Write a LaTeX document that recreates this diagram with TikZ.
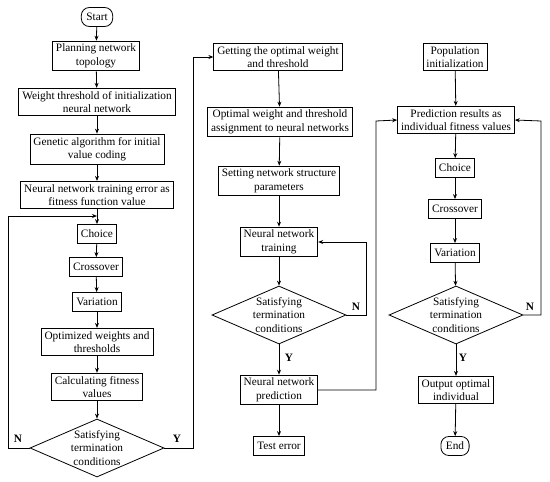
\documentclass[tikz,border=0pt]{standalone}
\usepackage{fontspec}
\setmainfont{Liberation Serif}
\usetikzlibrary{arrows.meta,shapes.geometric}

\begin{document}
\begin{tikzpicture}[x=1pt,y=-1pt,
  font=\rmfamily\fontsize{11.3}{13.5}\selectfont,
  box/.style={draw, line width=0.8pt, align=center, inner xsep=3.5pt, inner ysep=3pt, minimum height=19pt},
  term/.style={box, rounded corners=8pt, inner xsep=5pt},
  decide/.style={draw, line width=0.8pt, diamond, minimum width=134pt, minimum height=58pt, inner sep=0pt,
    label={[align=center]center:Satisfying\\termination\\conditions}},
  flow/.style={line width=0.8pt, -{Stealth[length=5pt, width=4pt]}},
  yn/.style={font=\rmfamily\fontsize{11.3}{13.5}\selectfont\bfseries}]
\useasboundingbox (0,0) rectangle (550,482);
% left column: GA optimisation
\node[term] (start) at (97,17) {Start};
\node[box] (plan) at (96,56) {Planning network\\topology};
\node[box] (initw) at (97,102) {Weight threshold of initialization\\neural network};
\node[box] (coding) at (97,149) {Genetic algorithm for initial\\value coding};
\node[box] (fit) at (97,195) {Neural network training error as\\fitness function value};
\node[box] (choiceA) at (97,234) {Choice};
\node[box] (crossA) at (96,267) {Crossover};
\node[box] (varA) at (97,302) {Variation};
\node[box] (optw) at (97,342) {Optimized weights and\\thresholds};
\node[box] (calc) at (97,387) {Calculating fitness\\values};
\node[decide] (decA) at (97,448) {};
\coordinate (joinA) at (97,216);
% middle column: BP network
\node[box] (best) at (278,57) {Getting the optimal weight\\and threshold};
\node[box] (assign) at (280,122) {Optimal weight and threshold\\assignment to neural networks};
\node[box] (struct) at (279,181) {Setting network structure\\parameters};
\node[box] (train) at (279,242) {Neural network\\training};
\node[decide] (decB) at (279,315) {};
\node[box] (pred) at (279,390) {Neural network\\prediction};
\node[box] (test) at (279,446) {Test error};
% right column: population search
\node[box] (pop) at (455,57) {Population\\initialization};
\node[box] (indfit) at (456,120) {Prediction results as\\individual fitness values};
\node[box] (choiceC) at (455,168) {Choice};
\node[box] (crossC) at (455,209) {Crossover};
\node[box] (varC) at (455,253) {Variation};
\node[decide] (decC) at (456,315) {};
\node[box] (out) at (456,390) {Output optimal\\individual};
\node[term] (end) at (455,446) {End};

\draw[flow] (start) -- (plan);
\draw[flow] (plan) -- (initw);
\draw[flow] (initw) -- (coding);
\draw[flow] (coding) -- (fit);
\draw[flow] (fit) -- (choiceA);
\draw[flow] (choiceA) -- (crossA);
\draw[flow] (crossA) -- (varA);
\draw[flow] (varA) -- (optw);
\draw[flow] (optw) -- (calc);
\draw[flow] (calc) -- (decA);
\draw[flow] (decA.west) -- (8,448) -- (8,216) -- (joinA);
\draw[flow] (decA.east) -- (193,448) -- (193,57) -- (best.west);
\node[yn] at (18,439) {N};
\node[yn] at (177,439) {Y};

\draw[flow] (best) -- (assign);
\draw[flow] (assign) -- (struct);
\draw[flow] (struct) -- (train);
\draw[flow] (train) -- (decB);
\draw[flow] (decB) -- (pred);
\draw[flow] (pred) -- (test);
\draw[flow] (decB.east) -- (366,315) -- (366,242) -- (train.east);
\draw[flow] (pred.east) -- (376,390) -- (376,121) -- (indfit.west);
\node[yn] at (356,307) {N};
\node[yn] at (289,358) {Y};

\draw[flow] (pop) -- (indfit);
\draw[flow] (indfit) -- (choiceC);
\draw[flow] (choiceC) -- (crossC);
\draw[flow] (crossC) -- (varC);
\draw[flow] (varC) -- (decC);
\draw[flow] (decC) -- (out);
\draw[flow] (out) -- (end);
\draw[flow] (decC.east) -- (541,315) -- (541,121) -- (indfit.east);
\node[yn] at (530,307) {N};
\node[yn] at (463,358) {Y};
\end{tikzpicture}
\end{document}
